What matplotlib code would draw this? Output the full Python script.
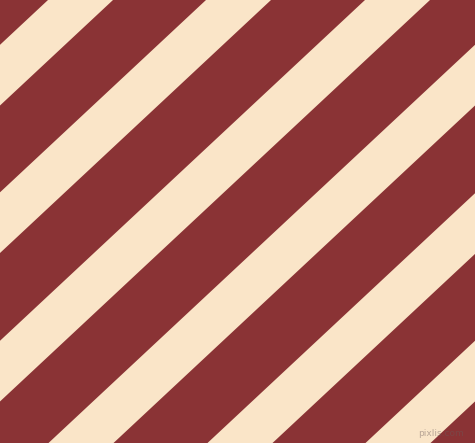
import matplotlib
matplotlib.use('Agg')
import matplotlib.pyplot as plt
from matplotlib.patches import Polygon

# stripe layout (pixels)
width_px = 475
height_px = 443
cream_starts = [48, 206, 365, 523, 682, 840]   # x where each cream band meets the top edge
cream_width = 65                               # horizontal width of a cream band
shift = 474.5                                  # horizontal drift of a band from top to bottom

red = '#8a3335'
cream = '#fae5c8'

fig = plt.figure(figsize=(width_px / 100, height_px / 100), dpi=100)
ax = fig.add_axes([0, 0, 1, 1])
ax.set_xlim(0, width_px)
ax.set_ylim(height_px, 0)
ax.set_facecolor(red)
ax.axis('off')
fig.patch.set_facecolor(red)

for s in cream_starts:
    pts = [(s, 0), (s + cream_width, 0),
           (s + cream_width - shift, height_px), (s - shift, height_px)]
    ax.add_patch(Polygon(pts, closed=True, facecolor=cream, edgecolor='none'))

ax.text(441, 434, 'pixlis.com', ha='center', va='center', fontsize=6.5,
        color='#6b5a5a', alpha=0.45)

fig.savefig('out.png', dpi=100, facecolor=red)
